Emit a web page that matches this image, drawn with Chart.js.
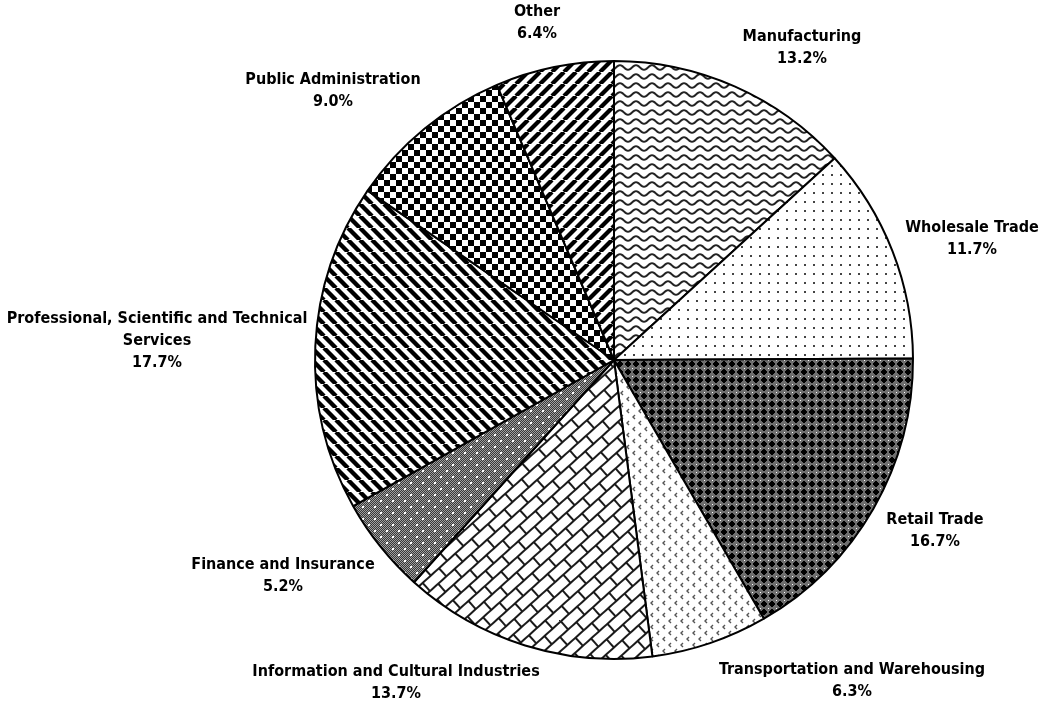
<!DOCTYPE html>
<html>
<head>
<meta charset="utf-8">
<script src="https://cdn.jsdelivr.net/npm/chart.js@4.4.1/dist/chart.umd.min.js"></script>
<style>
    html, body { margin: 0; padding: 0; background: #fff; }
    #wrap { width: 1040px; height: 705px; }
</style>
</head>
<body>
<div id="wrap"><canvas id="industry-chart" width="1040" height="705"></canvas></div>
<script>
const categories = [
    'Manufacturing',
    'Wholesale Trade',
    'Retail Trade',
    'Transportation and Warehousing',
    'Information and Cultural Industries',
    'Finance and Insurance',
    ['Professional, Scientific and Technical', 'Services'],
    'Public Administration',
    'Other'
];
const shares = [13.2, 11.7, 16.7, 6.3, 13.7, 5.2, 17.7, 9.0, 6.4];

// where each label block sits, relative to the pie centre (px)
const labelOffsets = [
    [188, -312], [358, -121], [321, 171], [238, 321], [-218, 323],
    [-331, 216], [-457, -19], [-281, -269], [-77, -337]
];
const LABEL_FONT = 'bold 16px "Liberation Sans Narrow", "Arial Narrow", "DejaVu Sans Condensed", sans-serif';
const LINE_H = 22;

// draw a tile on an offscreen canvas and turn it into a pattern
function tile(w, h, draw, transform) {
    const c = document.createElement('canvas');
    c.width = w;
    c.height = h;
    const g = c.getContext('2d');
    g.fillStyle = '#fff';
    g.fillRect(0, 0, w, h);
    draw(g, w, h);
    const p = g.createPattern(c, 'repeat');
    if (transform && p.setTransform) p.setTransform(transform);
    return p;
}

function stripes(dir, period, width) {
    return tile(period, period, (g, w, h) => {
        g.strokeStyle = '#000';
        g.lineWidth = width;
        for (let k = -w; k <= w; k += w) {
            g.beginPath();
            if (dir > 0) { g.moveTo(k, h); g.lineTo(k + w, 0); }   // "/"
            else { g.moveTo(k, 0); g.lineTo(k + w, h); }          // "\"
            g.stroke();
        }
    });
}

const patterns = [
    // Manufacturing - waves
    tile(16, 9, (g, w, h) => {
        g.strokeStyle = '#222';
        g.lineWidth = 2;
        g.beginPath();
        for (let x = -1; x <= w + 1; x++) {
            const y = 4.5 + 2.3 * Math.sin(x / w * Math.PI * 2);
            if (x === -1) g.moveTo(x, y); else g.lineTo(x, y);
        }
        g.stroke();
    }),
    // Wholesale - dots
    tile(9, 9, (g) => {
        g.fillStyle = '#444';
        g.fillRect(3, 3, 2, 2);
    }),
    // Retail - dark cross weave
    tile(8, 8, (g) => {
        g.fillStyle = '#6e6e6e';
        g.fillRect(0, 0, 8, 8);
        g.fillStyle = '#000';
        g.fillRect(3, 1, 2, 6);
        g.fillRect(1, 3, 6, 2);
        g.fillRect(2, 2, 4, 4);
        g.fillStyle = '#fff';
        g.fillRect(0, 0, 1, 1);
    }),
    // Transportation - little chevrons
    tile(12, 12, (g) => {
        g.strokeStyle = '#555';
        g.lineWidth = 1.4;
        [[3, 3], [9, 9]].forEach(([x, y]) => {
            g.beginPath();
            g.moveTo(x + 2, y - 2);
            g.lineTo(x, y);
            g.lineTo(x + 2, y + 2);
            g.stroke();
        });
    }),
    // Information - diagonal bricks
    tile(22, 22, (g) => {
        g.strokeStyle = '#1a1a1a';
        g.lineWidth = 2;
        g.beginPath();
        g.moveTo(0, 1); g.lineTo(22, 1);
        g.moveTo(0, 12); g.lineTo(22, 12);
        g.moveTo(1, 1); g.lineTo(1, 12);
        g.moveTo(12, 12); g.lineTo(12, 22);
        g.stroke();
    }, new DOMMatrix().rotate(-42)),
    // Finance - grey texture with white dots
    tile(12, 12, (g) => {
        for (let y = 0; y < 12; y++) {
            for (let x = 0; x < 12; x++) {
                g.fillStyle = (x + y) % 2 ? '#383838' : '#a0a0a0';
                g.fillRect(x, y, 1, 1);
            }
        }
        g.fillStyle = '#fff';
        g.fillRect(2, 2, 2, 2);
        g.fillRect(8, 8, 2, 2);
    }),
    // Professional - "\" stripes
    stripes(-1, 12, 4.4),
    // Public Administration - checkerboard
    tile(12, 12, (g) => {
        g.fillStyle = '#000';
        g.fillRect(0, 0, 6, 6);
        g.fillRect(6, 6, 6, 6);
    }),
    // Other - "/" stripes
    stripes(1, 12, 4.2)
];

const sliceLabels = {
    id: 'sliceLabels',
    afterDatasetsDraw(chart) {
        const arc = chart.getDatasetMeta(0).data[0];
        const cx = arc.x;
        const cy = arc.y;
        const ctx = chart.ctx;
        ctx.save();
        ctx.font = LABEL_FONT;
        ctx.fillStyle = '#000';
        ctx.textAlign = 'center';
        ctx.textBaseline = 'middle';
        categories.forEach((cat, i) => {
            const lines = [].concat(cat, shares[i].toFixed(1) + '%');
            const [dx, dy] = labelOffsets[i];
            const top = cy + dy - (lines.length - 1) * LINE_H / 2;
            lines.forEach((t, k) => ctx.fillText(t, cx + dx, top + k * LINE_H));
        });
        ctx.restore();
    }
};

new Chart(document.getElementById('industry-chart').getContext('2d'), {
    type: 'pie',
    data: {
        labels: categories,
        datasets: [{
            data: shares,
            backgroundColor: patterns,
            borderColor: '#000',
            borderWidth: 2,
            hoverOffset: 0
        }]
    },
    options: {
        responsive: false,
        animation: false,
        layout: {
            padding: { top: 60, bottom: 45, left: 314, right: 126 }
        },
        plugins: {
            legend: { display: false },
            tooltip: { enabled: false }
        }
    },
    plugins: [sliceLabels]
});
</script>
</body>
</html>
